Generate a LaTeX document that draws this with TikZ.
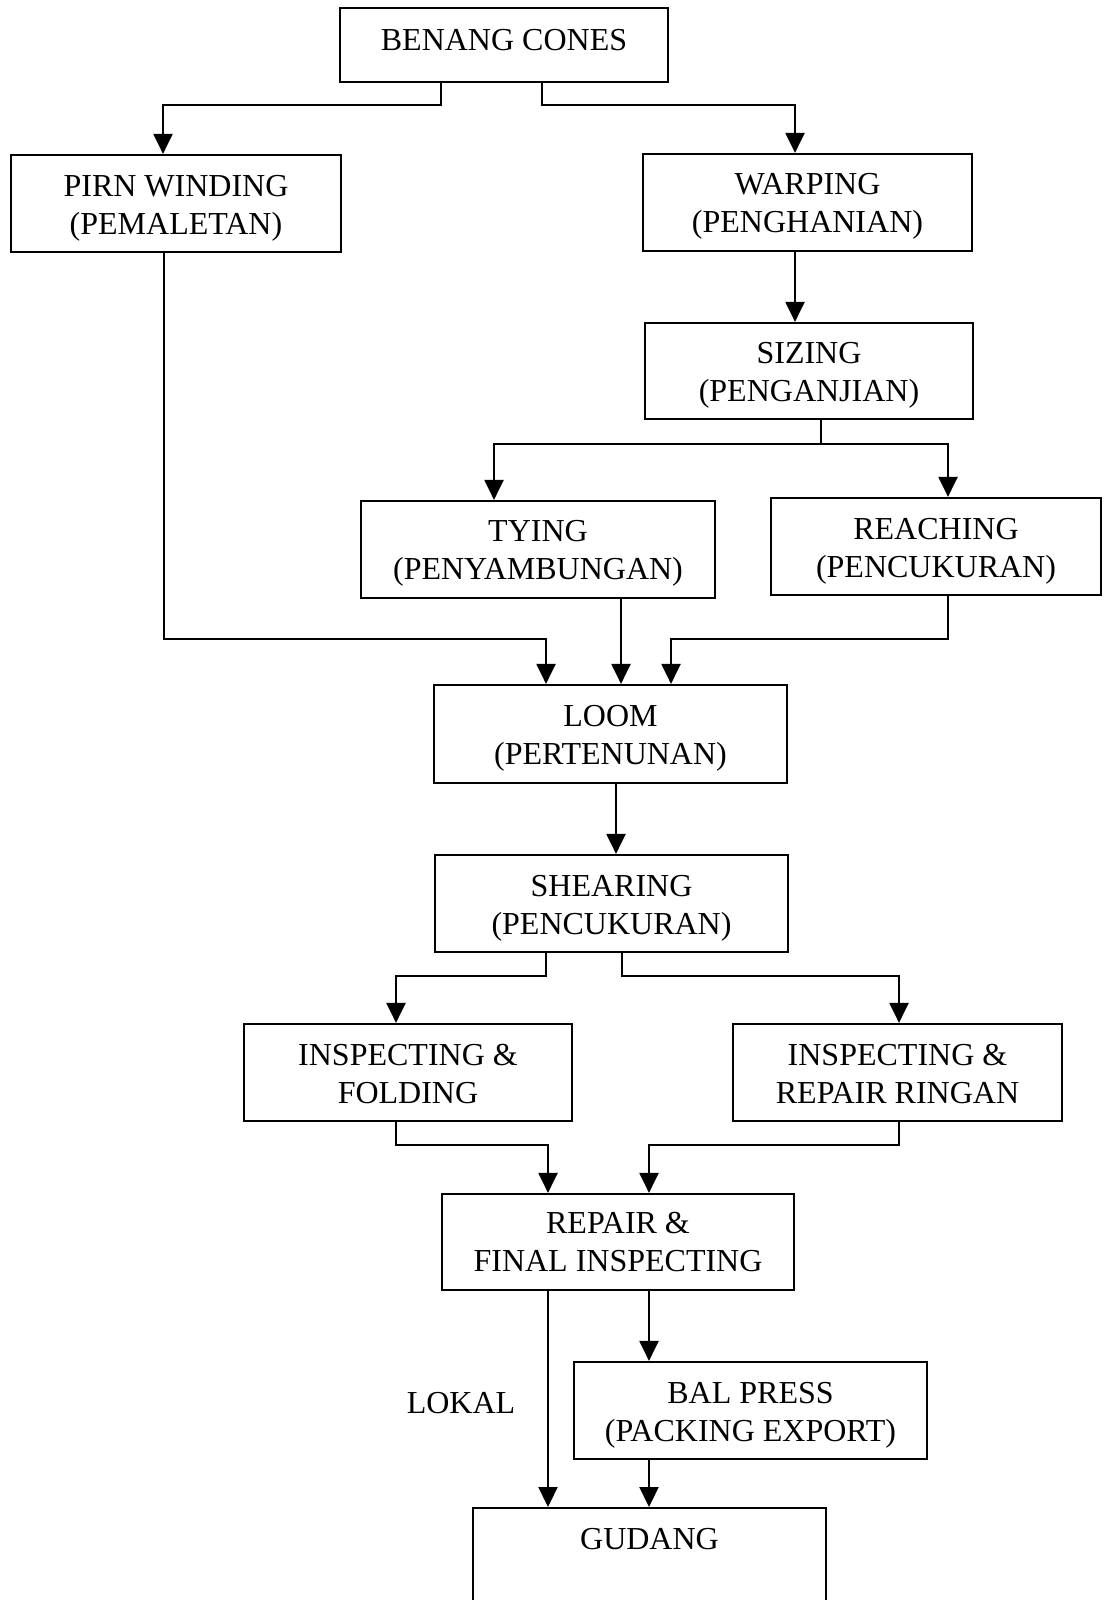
\documentclass[tikz,border=0pt]{standalone}
\usepackage{fontspec}
\setmainfont{Liberation Serif}
\usetikzlibrary{arrows.meta}
\tikzset{
  txt/.style={align=center, inner sep=0pt, font=\fontsize{16}{19}\selectfont},
  box/.style={draw, line width=1.1pt, rectangle, inner sep=0pt},
  tb/.style 2 args={label={[txt, yshift=#1]center:#2}},
  arr/.style={draw, line width=1.1pt, -{Triangle[length=10pt,width=9.5pt]}},
  ln/.style={draw, line width=1.1pt},
}
\begin{document}
\begin{tikzpicture}[x=0.5pt,y=-0.5pt]
\useasboundingbox (0,0) rectangle (1105,1600);
\fill[white] (0,0) rectangle (1105,1600);
\clip (0,0) rectangle (1105,1600);
% boxes
\node[box, minimum width=164pt, minimum height=37pt, tb={2.5pt}{BENANG CONES}] (cones) at (504,45) {};
\node[box, minimum width=165pt, minimum height=48.5pt, tb={-2.3pt}{PIRN WINDING\\(PEMALETAN)}] (pirn) at (176,203.5) {};
\node[box, minimum width=164.5pt, minimum height=48.5pt, tb={-2pt}{WARPING\\(PENGHANIAN)}] (warp) at (807.5,202.5) {};
\node[box, minimum width=164pt, minimum height=48pt, tb={-2.3pt}{SIZING\\(PENGANJIAN)}] (sizing) at (809,371) {};
\node[box, minimum width=177pt, minimum height=48.5pt, tb={-2pt}{TYING\\(PENYAMBUNGAN)}] (tying) at (538,549.5) {};
\node[box, minimum width=165pt, minimum height=48.5pt, tb={-2.4pt}{REACHING\\(PENCUKURAN)}] (reach) at (936,546.5) {};
\node[box, minimum width=176.5pt, minimum height=49pt, tb={-2.3pt}{LOOM\\(PERTENUNAN)}] (loom) at (610.5,734) {};
\node[box, minimum width=176.5pt, minimum height=48.5pt, tb={-2.5pt}{SHEARING\\(PENCUKURAN)}] (shear) at (611.5,903.5) {};
\node[box, minimum width=164pt, minimum height=48.5pt, tb={-1pt}{INSPECTING \&\\FOLDING}] (insp1) at (408,1072.5) {};
\node[box, minimum width=164.5pt, minimum height=48.5pt, tb={-1pt}{INSPECTING \&\\REPAIR RINGAN}] (insp2) at (897.5,1072.5) {};
\node[box, minimum width=176pt, minimum height=48pt, tb={0pt}{REPAIR \&\\FINAL INSPECTING}] (repair) at (618,1242) {};
\node[box, minimum width=176.5pt, minimum height=48.5pt, tb={-2.3pt}{BAL PRESS\\(PACKING EXPORT)}] (bal) at (750.5,1410.5) {};
\node[box, anchor=north, minimum width=176.5pt, minimum height=80pt] (gudang) at (649.5,1507) {};
\node[txt] (gudangtxt) at (649.5,1539) {GUDANG};
\node[txt] (lokal) at (461,1403) {LOKAL};
% connectors
\draw[arr] (cones.south -| 441,0) -- (441,105) -| (pirn.north -| 163,0);
\draw[arr] (cones.south -| 542,0) -- (542,105) -| (warp.north -| 795,0);
\draw[arr] (warp.south -| 795,0) -- (sizing.north -| 795,0);
\coordinate (sj) at (821,444);
\draw[ln] (sizing.south -| 821,0) -- (sj);
\draw[arr] (sj) -| (tying.north -| 494,0);
\draw[arr] (sj) -| (reach.north -| 948,0);
\draw[arr] (pirn.south -| 164,0) -- (164,639) -| (loom.north -| 546,0);
\draw[arr] (tying.south -| 621,0) -- (loom.north -| 621,0);
\draw[arr] (reach.south -| 948,0) -- (948,639) -| (loom.north -| 671,0);
\draw[arr] (loom.south -| 616,0) -- (shear.north -| 616,0);
\draw[arr] (shear.south -| 546,0) -- (546,976) -| (insp1.north -| 396,0);
\draw[arr] (shear.south -| 622,0) -- (622,976) -| (insp2.north -| 899,0);
\draw[arr] (insp1.south -| 396,0) -- (396,1145) -| (repair.north -| 548,0);
\draw[arr] (insp2.south -| 899,0) -- (899,1145) -| (repair.north -| 649,0);
\draw[arr] (repair.south -| 548,0) -- (gudang.north -| 548,0);
\draw[arr] (repair.south -| 649,0) -- (bal.north -| 649,0);
\draw[arr] (bal.south -| 649,0) -- (gudang.north -| 649,0);
\end{tikzpicture}
\end{document}
